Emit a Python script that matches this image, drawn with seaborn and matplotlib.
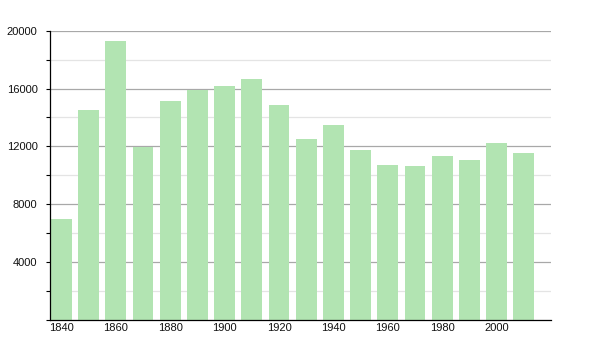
import matplotlib
matplotlib.use("Agg")
import matplotlib.pyplot as plt
import seaborn as sns
import pandas as pd
from matplotlib.ticker import MultipleLocator

years = [1840, 1850, 1860, 1870, 1880, 1890, 1900, 1910, 1920,
         1930, 1940, 1950, 1960, 1970, 1980, 1990, 2000, 2010]
population = [6960, 14520, 19290, 11990, 15140, 15900, 16180, 16660, 14860,
              12490, 13480, 11750, 10720, 10650, 11360, 11060, 12210, 11570]
xtick_labels = [1840, 1860, 1880, 1900, 1920, 1940, 1960, 1980, 2000]
ytick_values = [4000, 8000, 12000, 16000, 20000]

sns.set_theme(style="white")
plt.rcParams['font.family'] = ['Liberation Sans', 'DejaVu Sans']

df = pd.DataFrame({"year": years, "pop": population})

fig = plt.figure(figsize=(6, 3.5), dpi=100)
ax = fig.add_axes([50/600, 1-320/350, (551-50)/600, (320-30.7)/350])

sns.barplot(data=df, x="year", y="pop", native_scale=True, width=0.76,
            color="#b2e4b2", saturation=1, edgecolor="none", ax=ax, zorder=2)

ax.set_xlim(1835.8, 2020)
ax.set_ylim(0, 20000)
ax.set_xticks(xtick_labels)
ax.set_xticklabels([str(v) for v in xtick_labels])
ax.set_yticks(ytick_values)
ax.set_yticklabels([str(v) for v in ytick_values])
ax.yaxis.set_minor_locator(MultipleLocator(2000))

ax.grid(axis="y", which="major", color="#a8a8a8", linewidth=0.9, zorder=0)
ax.grid(axis="y", which="minor", color="#e4e4e4", linewidth=0.9, zorder=0)
ax.grid(axis="x", visible=False)
ax.set_axisbelow(True)

for s in ["top", "right"]:
    ax.spines[s].set_visible(False)
ax.spines["left"].set_color("black")
ax.spines["bottom"].set_color("black")
ax.spines["left"].set_linewidth(0.9)
ax.spines["bottom"].set_linewidth(0.9)

ax.tick_params(axis="y", which="both", left=True, length=3, width=0.8,
               color="black", labelsize=8, pad=6, labelcolor="#111111")
ax.tick_params(axis="x", bottom=False, length=0, labelsize=8, pad=2.5,
               labelcolor="#111111")
ax.set_xlabel("")
ax.set_ylabel("")

fig.savefig("out.png", dpi=100)
